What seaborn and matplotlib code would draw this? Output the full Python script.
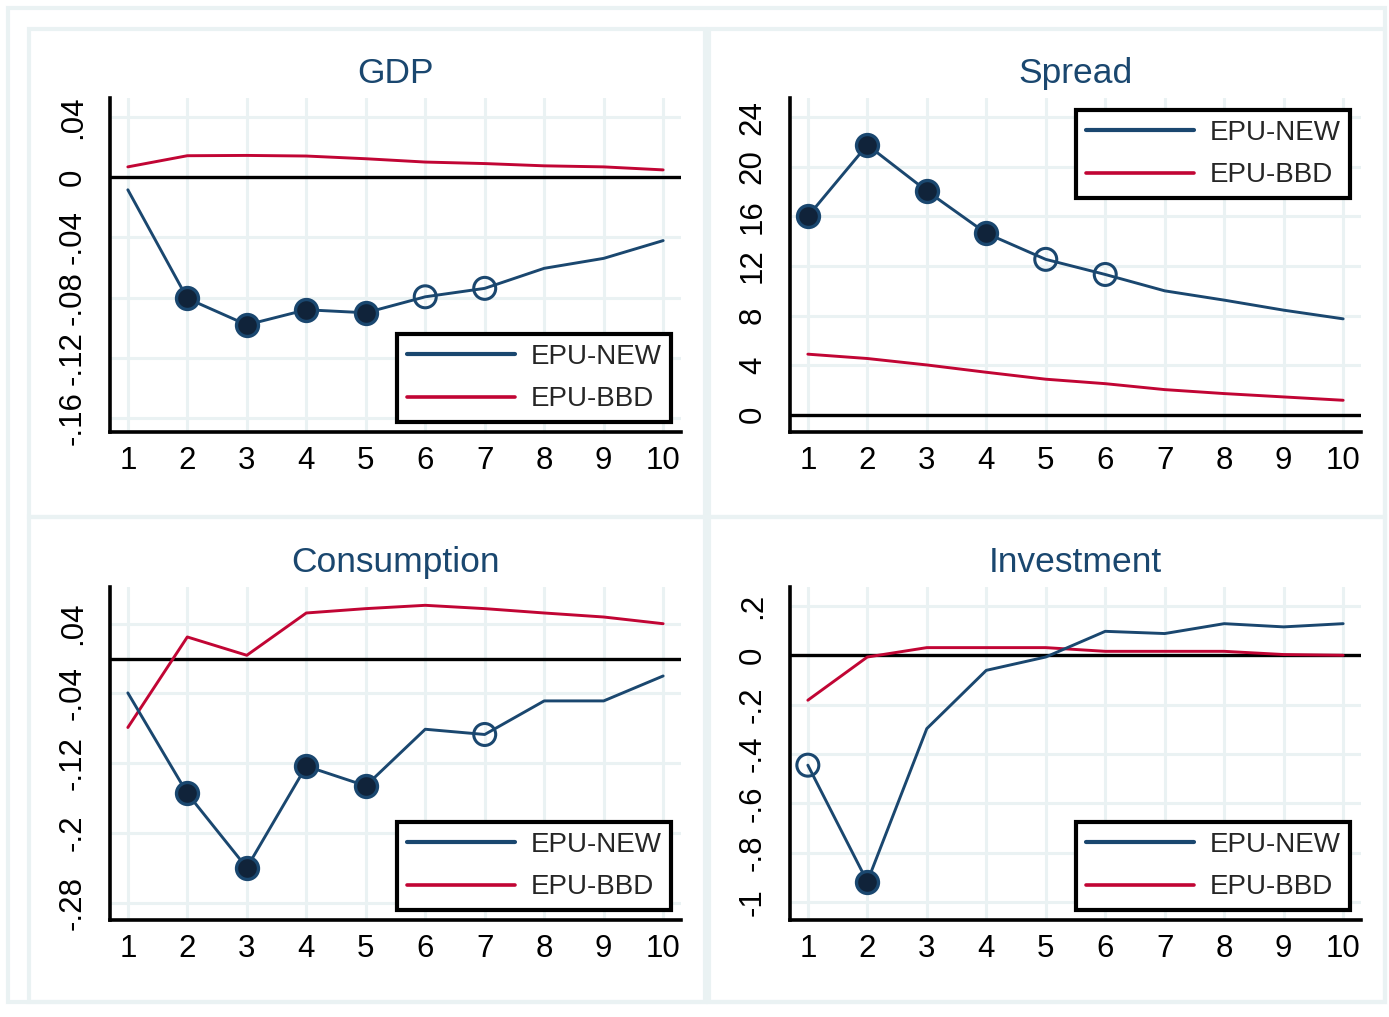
import matplotlib
matplotlib.use("Agg")
import matplotlib.pyplot as plt
from matplotlib.patches import Rectangle
from matplotlib.lines import Line2D
import numpy as np
import pandas as pd
import seaborn as sns

# ---- data: impulse responses over a 10-period horizon ----
horizon = [1, 2, 3, 4, 5, 6, 7, 8, 9, 10]
series_names = ["EPU-NEW", "EPU-BBD"]

gdp_new = [-0.0084, -0.0805, -0.0980, -0.0880, -0.0900, -0.0794, -0.0738, -0.0605, -0.0539, -0.0421]
gdp_bbd = [0.0068, 0.0142, 0.0144, 0.0140, 0.0122, 0.0100, 0.0090, 0.0075, 0.0068, 0.0048]
gdp_sig = ["", "filled", "filled", "filled", "filled", "hollow", "hollow", "", "", ""]

spread_new = [16.0, 21.76, 18.05, 14.63, 12.53, 11.31, 9.99, 9.24, 8.43, 7.73]
spread_bbd = [4.88, 4.53, 4.01, 3.42, 2.86, 2.50, 2.02, 1.70, 1.43, 1.16]
spread_sig = ["filled", "filled", "filled", "filled", "hollow", "hollow", "", "", "", ""]

cons_new = [-0.0393, -0.1546, -0.2398, -0.1233, -0.1459, -0.0810, -0.0870, -0.0485, -0.0485, -0.0199]
cons_bbd = [-0.0790, 0.0248, 0.0038, 0.0523, 0.0573, 0.0611, 0.0573, 0.0523, 0.0477, 0.0400]
cons_sig = ["", "filled", "filled", "filled", "filled", "", "hollow", "", "", ""]

inv_new = [-0.445, -0.917, -0.297, -0.061, -0.007, 0.097, 0.088, 0.128, 0.115, 0.128]
inv_bbd = [-0.182, -0.007, 0.031, 0.031, 0.031, 0.016, 0.016, 0.016, 0.003, 0.000]
inv_sig = ["hollow", "filled", "", "", "", "", "", "", "", ""]

titles = ["GDP", "Spread", "Consumption", "Investment"]

gdp_ticks = [-0.16, -0.12, -0.08, -0.04, 0, 0.04]
gdp_ticklabels = ["-.16", "-.12", "-.08", "-.04", "0", ".04"]
spread_ticks = [0, 4, 8, 12, 16, 20, 24]
spread_ticklabels = ["0", "4", "8", "12", "16", "20", "24"]
cons_ticks = [-0.28, -0.2, -0.12, -0.04, 0.04]
cons_ticklabels = ["-.28", "-.2", "-.12", "-.04", ".04"]
inv_ticks = [-1, -0.8, -0.6, -0.4, -0.2, 0, 0.2]
inv_ticklabels = ["-1", "-.8", "-.6", "-.4", "-.2", "0", ".2"]

# ---- styling ----
NAVY = "#1a476f"
RED = "#c10534"
GRID = "#eaf2f3"
FONT = ["Liberation Sans", "DejaVu Sans"]

sns.set_theme(style="white")
plt.rcParams["font.family"] = FONT

W, H = 1389, 1017
fig = plt.figure(figsize=(W / 100, H / 100), dpi=100)
fig.patch.set_facecolor("white")


def fx(px):
    return px / W


def fy(py):
    return 1 - py / H


# outer frame and panel frames
def frame(x0, y0, x1, y1):
    fig.patches.append(Rectangle((fx(x0), fy(y1)), fx(x1 - x0), (y1 - y0) / H,
                                 transform=fig.transFigure, fill=False,
                                 edgecolor=GRID, linewidth=3.0, zorder=0))


frame(8, 8, 1385, 1002)
for (x0, x1) in [(29, 705), (709, 1385)]:
    for (y0, y1) in [(29, 517), (517, 1002)]:
        frame(x0, y0, x1, y1)

panels = [
    dict(new=gdp_new, bbd=gdp_bbd, sig=gdp_sig, ticks=gdp_ticks, labels=gdp_ticklabels,
         ylim=(-0.1691, 0.0525), box=(110, 98, 681, 432), leg="lower right", anchor=(0.9825, 0.030)),
    dict(new=spread_new, bbd=spread_bbd, sig=spread_sig, ticks=spread_ticks, labels=spread_ticklabels,
         ylim=(-1.40, 25.55), box=(790, 98, 1361, 432), leg="upper right", anchor=(0.9807, 0.964)),
    dict(new=cons_new, bbd=cons_bbd, sig=cons_sig, ticks=cons_ticks, labels=cons_ticklabels,
         ylim=(-0.2997, 0.0821), box=(110, 587, 681, 920), leg="lower right", anchor=(0.9825, 0.030)),
    dict(new=inv_new, bbd=inv_bbd, sig=inv_sig, ticks=inv_ticks, labels=inv_ticklabels,
         ylim=(-1.072, 0.2765), box=(790, 587, 1361, 920), leg="lower right", anchor=(0.9807, 0.030)),
]

for title, p in zip(titles, panels):
    x0, y0, x1, y1 = p["box"]
    ax = fig.add_axes([fx(x0), fy(y1), fx(x1 - x0), (y1 - y0) / H])
    ax.set_facecolor("white")

    df = pd.DataFrame({"step": horizon * 2,
                       "value": p["new"] + p["bbd"],
                       "series": [series_names[0]] * 10 + [series_names[1]] * 10})
    sig = pd.DataFrame({"step": horizon, "value": p["new"], "kind": p["sig"]})

    for yt in p["ticks"]:
        ax.axhline(yt, color=GRID, lw=2.2, zorder=0)
    for xt in horizon:
        ax.axvline(xt, color=GRID, lw=2.2, zorder=0)
    ax.axhline(0, color="black", lw=2.4, zorder=1)

    sns.lineplot(data=df, x="step", y="value", hue="series",
                 palette={series_names[0]: NAVY, series_names[1]: RED},
                 hue_order=series_names[::-1], linewidth=2.1, ax=ax, legend=False,
                 zorder=2)

    filled = sig[sig["kind"] == "filled"]
    hollow = sig[sig["kind"] == "hollow"]
    if len(filled):
        sns.scatterplot(data=filled, x="step", y="value", ax=ax, s=250,
                        color="#10233a", edgecolor=NAVY, linewidth=2.4, zorder=4, legend=False)
    if len(hollow):
        sns.scatterplot(data=hollow, x="step", y="value", ax=ax, s=250,
                        facecolor="none", edgecolor=NAVY, linewidth=2.2, zorder=4, legend=False)

    ax.set_xlim(0.7, 10.3)
    ax.set_ylim(*p["ylim"])
    ax.set_xticks(horizon)
    ax.set_xticklabels([str(h) for h in horizon])
    ax.set_yticks(p["ticks"])
    ax.set_yticklabels(p["labels"], rotation=90, va="center")
    ax.set_xlabel("")
    ax.set_ylabel("")
    ax.tick_params(axis="both", which="major", direction="out", length=9, width=2.2,
                   color="black", labelsize=22.5, labelcolor="black")
    ax.tick_params(axis="x", pad=1)
    ax.tick_params(axis="y", pad=7)
    for side in ["top", "right"]:
        ax.spines[side].set_visible(False)
    for side in ["left", "bottom"]:
        ax.spines[side].set_color("black")
        ax.spines[side].set_linewidth(2.6)
    ax.grid(False)

    ax.set_title(title, fontsize=25.5, color=NAVY, pad=11)

    handles = [Line2D([0], [0], color=NAVY, lw=3.0), Line2D([0], [0], color=RED, lw=2.6)]
    leg = ax.legend(handles, series_names, loc=p["leg"], bbox_to_anchor=p["anchor"],
                    borderaxespad=0, fontsize=20, handlelength=3.9, handletextpad=0.55,
                    borderpad=0.35, labelspacing=0.6, fancybox=False, framealpha=1,
                    edgecolor="black")
    leg.get_frame().set_linewidth(3.0)
    leg.set_zorder(6)

fig.savefig("out.png", dpi=100, facecolor="white")
